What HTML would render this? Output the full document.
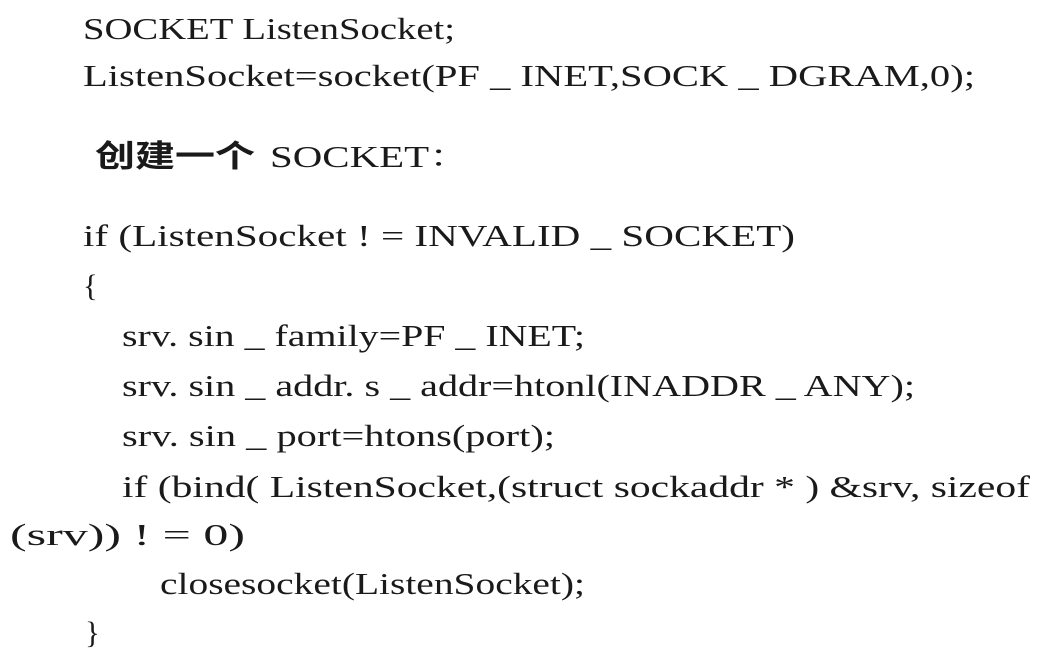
<!DOCTYPE html>
<html><head><meta charset="utf-8"><style>
html,body{margin:0;padding:0;background:#fff;}
svg{display:block}
text{font-family:"Liberation Serif","Noto Serif CJK SC",serif;font-size:31px;fill:#1a1a1a;}
.cn{font-family:"Liberation Serif","Noto Sans CJK SC",sans-serif;font-weight:bold;}
</style></head><body>
<svg width="1049" height="661" viewBox="0 0 1049 661" xmlns="http://www.w3.org/2000/svg">
<rect width="1049" height="661" fill="#fff"/>
<text x="83" y="39" textLength="372" lengthAdjust="spacingAndGlyphs">SOCKET ListenSocket;</text>
<text x="83" y="86" textLength="892" lengthAdjust="spacingAndGlyphs">ListenSocket=socket(PF _ INET,SOCK _ DGRAM,0);</text>
<text class="cn" x="95" y="167" textLength="160" lengthAdjust="spacingAndGlyphs">创建一个</text>
<text x="270" y="167" textLength="200" lengthAdjust="spacingAndGlyphs">SOCKET：</text>
<text x="83" y="246" textLength="712" lengthAdjust="spacingAndGlyphs">if (ListenSocket ! = INVALID _ SOCKET)</text>
<text x="83" y="296">{</text>
<text x="122" y="346" textLength="463" lengthAdjust="spacingAndGlyphs">srv. sin _ family=PF _ INET;</text>
<text x="122" y="396" textLength="793" lengthAdjust="spacingAndGlyphs">srv. sin _ addr. s _ addr=htonl(INADDR _ ANY);</text>
<text x="122" y="446" textLength="433" lengthAdjust="spacingAndGlyphs">srv. sin _ port=htons(port);</text>
<text x="122" y="497" textLength="908" lengthAdjust="spacingAndGlyphs">if (bind( ListenSocket,(struct sockaddr * ) &amp;srv, sizeof</text>
<text x="10" y="545" textLength="235" lengthAdjust="spacingAndGlyphs">(srv)) ! = 0)</text>
<text x="160" y="594" textLength="425" lengthAdjust="spacingAndGlyphs">closesocket(ListenSocket);</text>
<text x="85" y="643">}</text>
</svg>
</body></html>
